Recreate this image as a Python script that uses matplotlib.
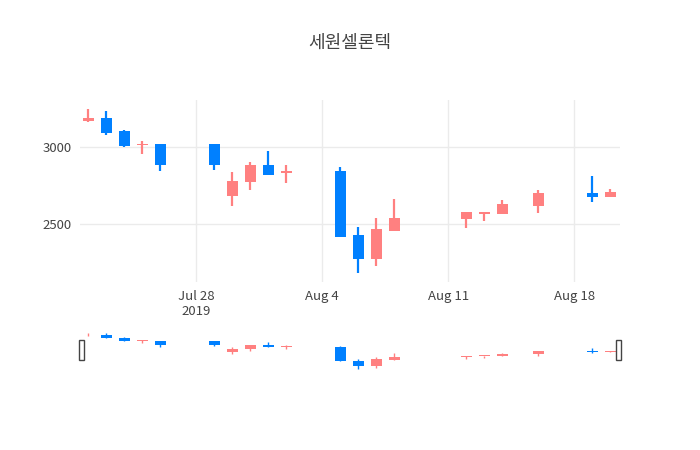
import matplotlib
matplotlib.use("Agg")
import matplotlib.pyplot as plt
import matplotlib.dates as mdates
import pandas as pd

plt.rcParams['font.family'] = ['Noto Sans CJK KR', 'DejaVu Sans']

dates = ["2019-07-22","2019-07-23","2019-07-24","2019-07-25","2019-07-26",
         "2019-07-29","2019-07-30","2019-07-31","2019-08-01","2019-08-02",
         "2019-08-05","2019-08-06","2019-08-07","2019-08-08",
         "2019-08-12","2019-08-13","2019-08-14","2019-08-16",
         "2019-08-19","2019-08-20"]
opens  = [3170,3188,3104,3010,3019,3019,2682,2773,2883,2830,2844,2429,2273,2455,2532,2565,2565,2617,2701,2675]
closes = [3185,3091,3006,3020,2883,2883,2779,2883,2818,2844,2416,2273,2468,2539,2578,2578,2630,2701,2675,2708]
highs  = [3245,3234,3110,3039,3019,3019,2838,2903,2974,2883,2870,2481,2539,2662,2578,2578,2656,2721,2812,2727]
lows   = [3165,3078,3000,2955,2844,2850,2617,2721,2818,2766,2416,2182,2227,2455,2474,2519,2565,2571,2643,2672]
tick_dates = ["2019-07-28","2019-08-04","2019-08-11","2019-08-18"]
tick_labels = ["Jul 28\n2019", "Aug 4", "Aug 11", "Aug 18"]

INC = '#ff8080'
DEC = '#0080ff'

x = mdates.date2num(pd.to_datetime(dates))

fig = plt.figure(figsize=(7, 4.5), dpi=100)
ax = fig.add_axes([80/700, 1-282/450, 540/700, 182/450])
rs = fig.add_axes([80/700, 1-370/450, 540/700, 40/450])

xmin, xmax = x[0]-0.45, x[-1]+0.55

def candles(a, width, lw, minh):
    for xi, o, c, h, l in zip(x, opens, closes, highs, lows):
        col = INC if c >= o else DEC
        a.plot([xi, xi], [l, h], color=col, lw=lw, zorder=3, solid_capstyle='butt')
        lo, hi = min(o, c), max(o, c)
        a.bar(xi, max(hi-lo, minh), width=width, bottom=lo, color=col, zorder=4, lw=0)

candles(ax, 0.6, 1.6, 6)
ax.set_xlim(xmin, xmax)
ax.set_ylim(2123, 3305)
ax.set_yticks([2500, 3000])
ax.set_yticklabels(['2500', '3000'])
ax.set_xticks(mdates.date2num(pd.to_datetime(tick_dates)))
ax.set_xticklabels(tick_labels)
ax.grid(True, color='#ebebeb', lw=1)
ax.set_axisbelow(True)
for s in ax.spines.values():
    s.set_visible(False)
ax.tick_params(length=0, labelsize=9.5, colors='#444444', pad=6)

candles(rs, 0.6, 1.0, 20)
rs.set_xlim(xmin, xmax)
rs.set_ylim(min(lows) - 20, max(highs) + 80)
rs.set_xticks([]); rs.set_yticks([])
for s in rs.spines.values():
    s.set_visible(False)
for hx in (0.003, 0.997):
    rs.add_patch(plt.Rectangle((hx-0.004, 0.25), 0.008, 0.5, transform=rs.transAxes,
                               facecolor='white', edgecolor='#444444', lw=1, clip_on=False, zorder=6))

fig.text(0.5, 1-43/450, '세원셀론텍', ha='center', va='center', fontsize=13, color='#444444')
fig.savefig('out.png', dpi=100, facecolor='white')
